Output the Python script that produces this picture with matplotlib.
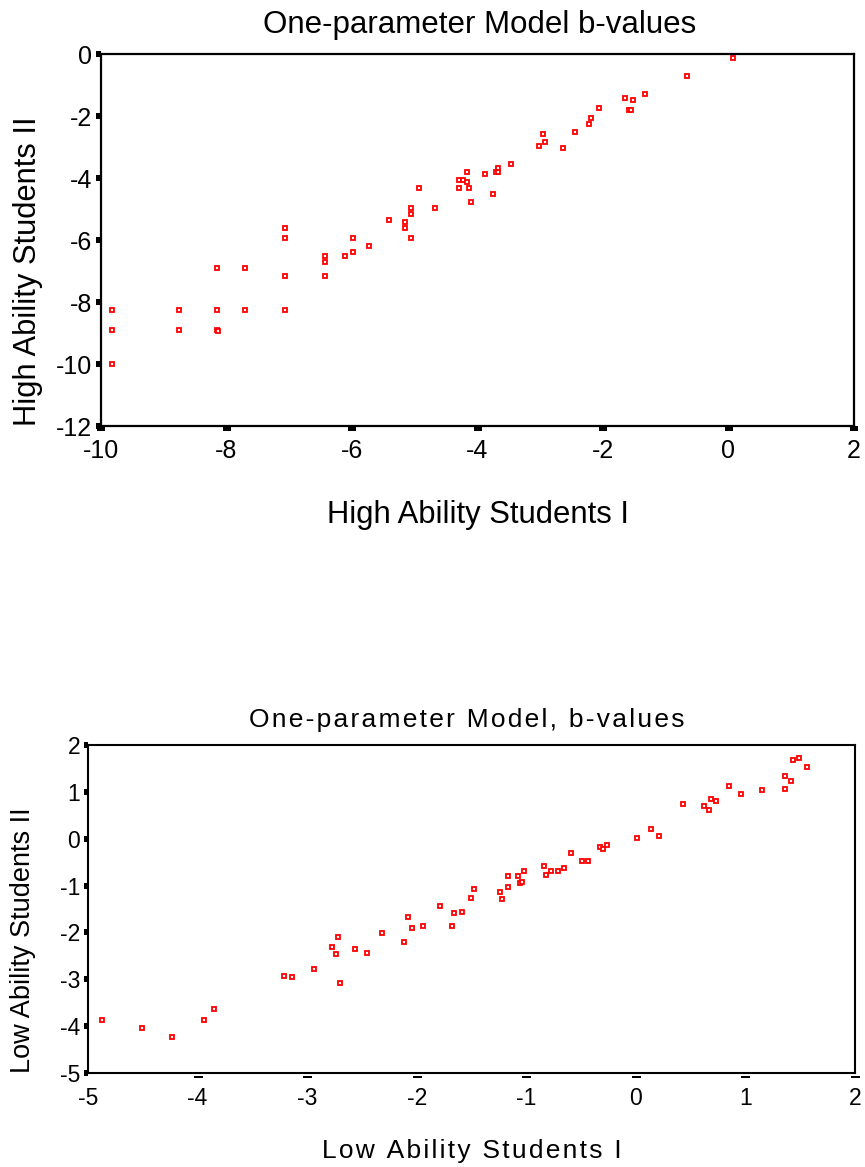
import matplotlib
matplotlib.use("Agg")
import matplotlib.pyplot as plt
import matplotlib.transforms as mtransforms

plt.rcParams["font.family"] = ["Liberation Sans", "DejaVu Sans"]
plt.rcParams["axes.unicode_minus"] = False

W, H = 865, 1167
RED = "#FF0000"

# ── top panel: high ability students ─────────────────────────────
high_x = [-9.83, -9.83, -9.83, -8.75, -8.75, -8.15, -8.15, -8.15, -8.13, -7.70,
          -7.70, -7.06, -7.06, -7.06, -7.06, -6.43, -6.43, -6.43, -6.11, -5.98,
          -5.98, -5.73, -5.41, -5.15, -5.15, -5.06, -5.06, -5.06, -4.93, -4.67,
          -4.29, -4.29, -4.23, -4.16, -4.16, -4.13, -4.10, -3.88, -3.75, -3.70,
          -3.67, -3.67, -3.47, -3.02, -2.95, -2.92, -2.63, -2.45, -2.22, -2.19,
          -2.06, -1.65, -1.58, -1.55, -1.52, -1.33, -0.66, 0.07]
high_y = [-8.27, -8.91, -10.01, -8.27, -8.91, -6.91, -8.27, -8.91, -8.93, -6.91,
          -8.27, -5.62, -5.95, -7.17, -8.27, -6.53, -6.72, -7.17, -6.53, -5.95,
          -6.40, -6.20, -5.37, -5.43, -5.62, -4.98, -5.17, -5.95, -4.33, -4.98,
          -4.07, -4.33, -4.07, -3.82, -4.14, -4.33, -4.78, -3.88, -4.53, -3.82,
          -3.82, -3.69, -3.56, -2.98, -2.59, -2.85, -3.04, -2.53, -2.27, -2.07,
          -1.75, -1.43, -1.82, -1.82, -1.49, -1.30, -0.72, -0.14]
high_xticks = [-10, -8, -6, -4, -2, 0, 2]
high_yticks = [-12, -10, -8, -6, -4, -2, 0]

# ── bottom panel: low ability students ───────────────────────────
low_x = [-4.87, -4.51, -4.23, -3.94, -3.85, -3.21, -3.14, -2.94, -2.77, -2.74,
         -2.72, -2.70, -2.56, -2.45, -2.32, -2.12, -2.08, -2.04, -1.94, -1.79,
         -1.68, -1.66, -1.59, -1.50, -1.48, -1.24, -1.22, -1.17, -1.17, -1.08,
         -1.06, -1.04, -1.02, -0.84, -0.82, -0.77, -0.71, -0.66, -0.59, -0.49,
         -0.44, -0.33, -0.30, -0.26, 0.01, 0.14, 0.21, 0.43, 0.62, 0.67,
         0.69, 0.73, 0.85, 0.96, 1.15, 1.36, 1.36, 1.42, 1.43, 1.49, 1.56]
low_y = [-3.87, -4.05, -4.24, -3.87, -3.64, -2.92, -2.96, -2.77, -2.32, -2.47,
         -2.09, -3.07, -2.35, -2.43, -2.01, -2.20, -1.67, -1.90, -1.86, -1.44,
         -1.86, -1.59, -1.56, -1.26, -1.07, -1.14, -1.29, -0.80, -1.03, -0.80,
         -0.95, -0.92, -0.69, -0.58, -0.77, -0.69, -0.69, -0.62, -0.31, -0.47,
         -0.47, -0.17, -0.21, -0.13, 0.02, 0.21, 0.06, 0.74, 0.70, 0.62,
         0.85, 0.81, 1.12, 0.96, 1.04, 1.34, 1.07, 1.23, 1.68, 1.72, 1.53]
low_xticks = [-5, -4, -3, -2, -1, 0, 1, 2]
low_yticks = [-5, -4, -3, -2, -1, 0, 1, 2]


def px(x, y):
    """pixel position (from top-left) -> figure fraction"""
    return x / W, 1 - y / H


def pt(p):
    return p * 72 / 100


def spaced(s):
    return "\u200a".join(s)


fig = plt.figure(figsize=(W / 100, H / 100), dpi=100)

# top panel
ax1 = fig.add_axes([101 / W, 1 - 426 / H, 753 / W, 372 / H])
ax1.plot(high_x, high_y, ls="none", marker="s", ms=3.0, mew=1.3,
         mec=RED, mfc="white")
ax1.set_xlim(-10, 2)
ax1.set_ylim(-12, 0)
ax1.set_xticks(high_xticks)
ax1.set_yticks(high_yticks)
ax1.tick_params(axis="x", direction="out", length=pt(5), width=pt(8),
                labelsize=18, pad=6, color="black")
ax1.tick_params(axis="y", direction="out", length=pt(5), width=pt(6),
                labelsize=18, pad=3, color="black")
for s in ax1.spines.values():
    s.set_linewidth(1.6)

fig.text(*px(480, 33), "One-parameter Model b-values", ha="center",
         va="baseline", fontsize=22.5)
fig.text(*px(478, 523), "High Ability Students I", ha="center",
         va="baseline", fontsize=22.3)
fig.text(*px(28, 271), "High Ability Students II", ha="center",
         va="center", rotation=90, fontsize=22.2)

# bottom panel
ax2 = fig.add_axes([88 / W, 1 - 1073 / H, 767 / W, 328 / H])
ax2.plot(low_x, low_y, ls="none", marker="s", ms=3.0, mew=1.3,
         mec=RED, mfc="white")
ax2.set_xlim(-5, 2)
ax2.set_ylim(-5, 2)
ax2.set_xticks(low_xticks)
ax2.set_yticks(low_yticks)
ax2.tick_params(axis="x", length=0, labelsize=16.5, pad=10)
ax2.tick_params(axis="y", direction="out", length=pt(4.5), width=pt(6),
                labelsize=16.5, pad=2.5, color="black")
# x ticks drawn as short dashes just below the axis line
dash_off = mtransforms.ScaledTranslation(0, -4 / 100, fig.dpi_scale_trans)
ax2.plot(low_xticks[1:], [0] * (len(low_xticks) - 1), ls="none",
         marker="_", ms=pt(9), mew=pt(2), color="black", clip_on=False,
         transform=ax2.get_xaxis_transform() + dash_off)
for s in ax2.spines.values():
    s.set_linewidth(1.5)

fig.text(*px(467, 727), spaced("One-parameter Model, b-values"), ha="center",
         va="baseline", fontsize=19)
fig.text(*px(472, 1158), spaced("Low Ability Students I"), ha="center",
         va="baseline", fontsize=19)
fig.text(*px(23, 940), "Low Ability Students II", ha="center",
         va="center", rotation=90, fontsize=19.5)

fig.savefig("out.png", dpi=100)
plt.close(fig)
